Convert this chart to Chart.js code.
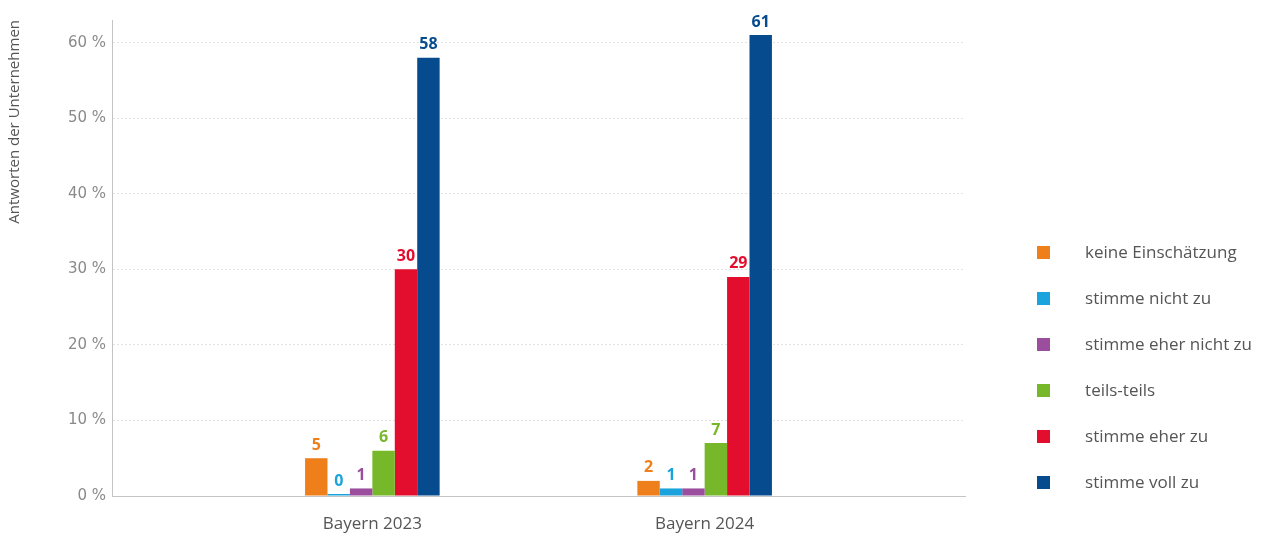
<!DOCTYPE html>
<html>
<head>
<meta charset="utf-8">
<script src="https://cdn.jsdelivr.net/npm/chart.js@4/dist/chart.umd.min.js"></script>
<style>
  html, body { margin: 0; padding: 0; background: #fff; }
  #wrap { width: 1262px; height: 538px; }
</style>
</head>
<body>
<div id="wrap"><canvas id="c" width="1262" height="538"></canvas></div>
<script>
const categories = ['Bayern 2023', 'Bayern 2024'];
const seriesNames = ['keine Einschätzung', 'stimme nicht zu', 'stimme eher nicht zu', 'teils-teils', 'stimme eher zu', 'stimme voll zu'];
const keineEinschaetzung = [5, 2];
const stimmeNichtZu = [0, 1];
const stimmeEherNichtZu = [1, 1];
const teilsTeils = [6, 7];
const stimmeEherZu = [30, 29];
const stimmeVollZu = [58, 61];
const seriesColors = ['#EF7F1A', '#1BA3DD', '#9B4E9D', '#76B82A', '#E30E2E', '#064B8E'];
const yTicks = [0, 10, 20, 30, 40, 50, 60];

const FONT = "'Open Sans', 'Noto Sans', sans-serif";
const TICKFONT = "'DejaVu Sans', sans-serif";
const seriesValues = [keineEinschaetzung, stimmeNichtZu, stimmeEherNichtZu, teilsTeils, stimmeEherZu, stimmeVollZu];

const legendFontSize = 17;
const swatches = seriesColors.map(col => {
  const cv = document.createElement('canvas');
  cv.width = 13; cv.height = 13;
  const cx = cv.getContext('2d');
  cx.fillStyle = col; cx.fillRect(0, 0, 13, 13);
  return cv;
});
const mctx = document.createElement('canvas').getContext('2d');
mctx.font = legendFontSize + 'px ' + FONT;
const maxTextW = Math.max(...seriesNames.map(s => mctx.measureText(s).width));
const legendBoxW = Math.max(20, 2 * (1252 - maxTextW - legendFontSize / 2 - 1043.5));

const datasets = seriesNames.map((name, i) => ({
  label: name,
  data: seriesValues[i].map((v, j) => ({ x: j + 1, y: v })),
  backgroundColor: seriesColors[i],
  borderWidth: 0,
  minBarLength: 2,
  barPercentage: 1,
  categoryPercentage: 0.405
}));

const barLabels = {
  id: 'barLabels',
  afterDatasetsDraw(chart) {
    const ctx = chart.ctx;
    ctx.save();
    ctx.font = 'bold 16px ' + FONT;
    ctx.textAlign = 'center';
    ctx.textBaseline = 'bottom';
    chart.data.datasets.forEach((ds, i) => {
      const meta = chart.getDatasetMeta(i);
      ctx.fillStyle = ds.backgroundColor;
      meta.data.forEach((el, j) => {
        ctx.fillText(String(seriesValues[i][j]), el.x, el.y - 5);
      });
    });
    ctx.restore();
  }
};

new Chart(document.getElementById('c'), {
  type: 'bar',
  data: { datasets },
  plugins: [barLabels],
  options: {
    responsive: false,
    animation: false,
    layout: { padding: { top: 20, bottom: 0, left: 0, right: 0 } },
    plugins: {
      tooltip: { enabled: false },
      legend: {
        position: 'right',
        align: 'start',
        maxWidth: 400,
        title: {
          display: true,
          text: ' ',
          font: { family: FONT, size: 12 },
          padding: { top: 181, bottom: 0 }
        },
        labels: {
          usePointStyle: true,
          pointStyleWidth: legendBoxW,
          boxHeight: legendFontSize,
          padding: 29,
          color: '#555',
          font: { family: FONT, size: legendFontSize },
          generateLabels(chart) {
            const items = Chart.defaults.plugins.legend.labels.generateLabels(chart);
            items.forEach((it, i) => { it.pointStyle = swatches[i]; });
            return items;
          }
        }
      }
    },
    scales: {
      x: {
        type: 'linear',
        offset: false,
        min: 0.2165,
        max: 2.7835,
        afterBuildTicks(s) { s.ticks = categories.map((c, i) => ({ value: i + 1 })); },
        afterFit(s) { s.height = 42; },
        ticks: {
          callback: (v) => categories[Math.round(v) - 1] || '',
          color: '#555',
          padding: 18,
          font: { family: FONT, size: 17 }
        },
        grid: { display: false, drawTicks: false },
        border: { color: '#c4c4c4', width: 1 }
      },
      y: {
        min: 0,
        max: 63,
        afterBuildTicks(s) { s.ticks = yTicks.map(v => ({ value: v })); },
        afterFit(s) { s.width = 112; },
        ticks: {
          stepSize: 10,
          callback: (v) => v + ' %',
          color: '#8a8a8a',
          padding: 6,
          font: { family: TICKFONT, size: 15 }
        },
        grid: { color: '#e2e2e2', lineWidth: 1, drawTicks: false },
        border: { color: '#c4c4c4', width: 1, dash: [2, 2] },
        title: {
          display: true,
          text: 'Antworten der Unternehmen',
          align: 'end',
          color: '#555',
          font: { family: FONT, size: 15 },
          padding: { top: 6, bottom: 0 }
        }
      },
      y2: {
        position: 'right',
        display: true,
        grid: { display: false, drawTicks: false },
        border: { display: false },
        ticks: { display: false },
        afterFit(s) { s.width = Math.max(0, s.chart.width - s.chart.legend.width - 965); }
      }
    }
  }
});
</script>
</body>
</html>
